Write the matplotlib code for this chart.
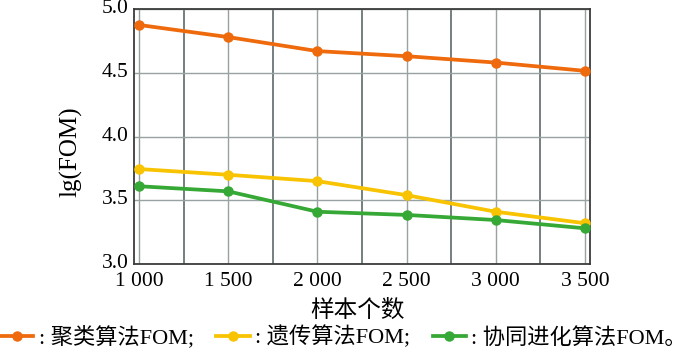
import matplotlib
matplotlib.use("Agg")
import matplotlib.pyplot as plt
import matplotlib.transforms as mtransforms
from matplotlib.ticker import MultipleLocator, FixedLocator, FormatStrFormatter

plt.rcParams['font.family'] = ['Liberation Serif', 'Noto Sans CJK SC', 'DejaVu Sans']

# data
samples = [1000, 1500, 2000, 2500, 3000, 3500]
x_labels = ['1 000', '1 500', '2 000', '2 500', '3 000', '3 500']
fom_cluster = [4.875, 4.78, 4.67, 4.63, 4.58, 4.515]
fom_genetic = [3.745, 3.70, 3.65, 3.54, 3.41, 3.32]
fom_coevo = [3.61, 3.57, 3.41, 3.385, 3.345, 3.28]
series_names = [': 聚类算法FOM;', ': 遗传算法FOM;', ': 协同进化算法FOM。']
colors = ['#EE6A0C', '#F8C300', '#35A835']

fig = plt.figure(figsize=(7, 3.55), dpi=100)
ax = fig.add_axes([0.1914, 0.2563, 0.6514, 0.7183])

for vals, name, c in zip([fom_cluster, fom_genetic, fom_coevo], series_names, colors):
    ax.plot(samples, vals, color=c, linewidth=2.7, marker='o', markersize=6.5,
            label=name, zorder=3)

ax.set_xlim(972, 3528)
ax.set_ylim(3.0, 5.0)
ax.xaxis.set_major_locator(FixedLocator(samples))
ax.set_xticklabels(x_labels)
ax.xaxis.set_minor_locator(FixedLocator([1250, 1750, 2250, 2750, 3250]))
ax.yaxis.set_major_locator(MultipleLocator(0.5))
ax.yaxis.set_major_formatter(FormatStrFormatter('%.1f'))

# lighter grid on the labelled ticks, darker on the in-between ones
ax.grid(True, which='major', color='#98A2A2', linewidth=1.0)
ax.grid(True, which='minor', axis='x', color='#6A7575', linewidth=1.3)
ax.tick_params(which='both', length=0, labelsize=15.5)
ax.tick_params(axis='x', pad=6)
ax.tick_params(axis='y', pad=4)
for s in ax.spines.values():
    s.set_color('#3C3C3C')
    s.set_linewidth(1.3)

# y labels sit a little above their grid line, as in the source figure
shift_up = mtransforms.ScaledTranslation(0, 3 / 100, fig.dpi_scale_trans)
for lab in ax.get_yticklabels():
    lab.set_transform(lab.get_transform() + shift_up)

ax.set_xlabel('样本个数', fontsize=17)
ax.xaxis.set_label_coords(0.49, -0.14)
ax.set_ylabel('lg(FOM)', fontsize=18)
ax.yaxis.set_label_coords(-0.112, 0.44)

fig.legend(loc='lower left', bbox_to_anchor=(-0.003, 0.012), ncol=3, frameon=False,
           fontsize=16, handlelength=1.5, handletextpad=0.25, columnspacing=1.0,
           borderpad=0.1, borderaxespad=0.0)

fig.savefig('out.png', dpi=100)
